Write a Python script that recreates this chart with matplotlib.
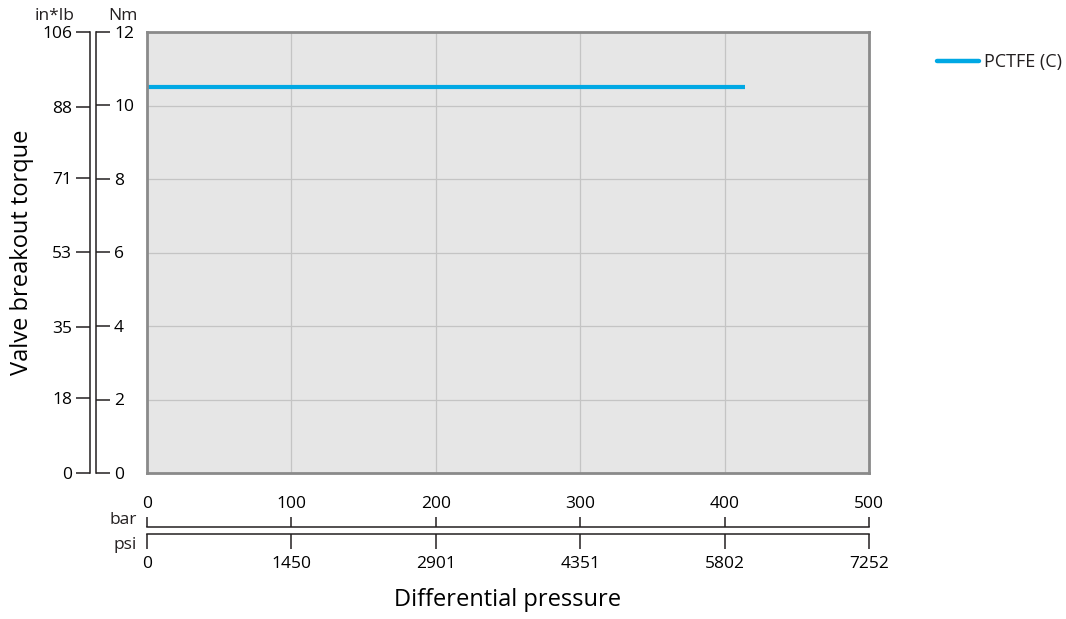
import matplotlib
matplotlib.use("Agg")
from matplotlib import pyplot as plt

plt.rcParams['font.family'] = ['Open Sans', 'DejaVu Sans']
plt.rcParams['text.color'] = '#231f20'

# data
series_name = "PCTFE (C)"
pressure_bar = [0, 414]
torque_nm = [10.5, 10.5]

bar_ticks = [0, 100, 200, 300, 400, 500]
psi_ticks = [0, 1450, 2901, 4351, 5802, 7252]
nm_ticks = [0, 2, 4, 6, 8, 10, 12]
inlb_ticks = [0, 18, 35, 53, 71, 88, 106]

W, H = 1066, 619
fig = plt.figure(figsize=(W / 100, H / 100), dpi=100)
x0, y0, x1, y1 = 147, 32, 869, 473
ax = fig.add_axes([x0 / W, 1 - y1 / H, (x1 - x0) / W, (y1 - y0) / H])
ax.set_facecolor('#e6e6e6')
ax.plot(pressure_bar, torque_nm, color='#00a8e4', lw=3, solid_capstyle='butt', label=series_name)
ax.set_xlim(0, 500)
ax.set_ylim(0, 12)
ax.set_xticks(bar_ticks)
ax.set_yticks(nm_ticks)
ax.grid(True, color='#c4c4c4', lw=0.9)
ax.tick_params(length=0, labelbottom=False, labelleft=False)
for s in ax.spines.values():
    s.set_color('#8a8a8a')
    s.set_linewidth(2)

axw = x1 - x0
axh = y1 - y0
lc = '#231f20'
fs = 12.5

# Nm axis (line at x=96, ticks to the right)
ax_nm = ax.twinx()
ax_nm.set_ylim(0, 12)
ax_nm.set_yticks(nm_ticks)
for k in ['left', 'top', 'bottom']:
    ax_nm.spines[k].set_visible(False)
ax_nm.spines['right'].set_position(('axes', (96 - x0) / axw))
ax_nm.spines['right'].set_color(lc)
ax_nm.spines['right'].set_linewidth(1.1)
ax_nm.tick_params(axis='y', direction='out', length=10, width=1.1, color=lc, pad=3, labelsize=fs)

# in*lb axis (line at x=90, ticks to the left)
ax_in = ax.twinx()
ax_in.set_ylim(0, 106)
ax_in.set_yticks(inlb_ticks)
ax_in.yaxis.set_ticks_position('left')
ax_in.yaxis.set_label_position('left')
for k in ['right', 'top', 'bottom']:
    ax_in.spines[k].set_visible(False)
ax_in.spines['left'].set_visible(True)
ax_in.spines['left'].set_position(('axes', (90 - x0) / axw))
ax_in.spines['left'].set_color(lc)
ax_in.spines['left'].set_linewidth(1.1)
ax_in.tick_params(axis='y', direction='out', length=10, width=1.1, color=lc, pad=3, labelsize=fs)
ax_in.set_ylabel("Valve breakout torque", fontsize=17, labelpad=6)

fig.text(55 / W, 1 - 16 / H, "in*lb", ha='center', va='center', fontsize=fs)
fig.text(123 / W, 1 - 16 / H, "Nm", ha='center', va='center', fontsize=fs)

# bar axis (line at y=527, ticks up, labels above)
ax_bar = ax.twiny()
ax_bar.set_xlim(0, 500)
ax_bar.set_xticks(bar_ticks)
for k in ['left', 'right', 'bottom']:
    ax_bar.spines[k].set_visible(False)
ax_bar.spines['top'].set_position(('axes', -(527 - y1) / axh))
ax_bar.spines['top'].set_color(lc)
ax_bar.spines['top'].set_linewidth(1.1)
ax_bar.tick_params(axis='x', direction='out', length=7.5, width=1.1, color=lc, pad=3, labelsize=fs)

# psi axis (line at y=534, ticks down, labels below)
ax_psi = ax.twiny()
ax_psi.set_xlim(0, 7252)
ax_psi.set_xticks(psi_ticks)
ax_psi.xaxis.set_ticks_position('bottom')
ax_psi.xaxis.set_label_position('bottom')
for k in ['left', 'right', 'top']:
    ax_psi.spines[k].set_visible(False)
ax_psi.spines['bottom'].set_visible(True)
ax_psi.spines['bottom'].set_position(('axes', -(534 - y1) / axh))
ax_psi.spines['bottom'].set_color(lc)
ax_psi.spines['bottom'].set_linewidth(1.1)
ax_psi.tick_params(axis='x', direction='out', length=10.5, width=1.1, color=lc, pad=5, labelsize=fs)
ax_psi.set_xlabel("Differential pressure", fontsize=17, labelpad=12)

fig.text(137 / W, 1 - 520 / H, "bar", ha='right', va='center', fontsize=fs)
fig.text(137 / W, 1 - 545 / H, "psi", ha='right', va='center', fontsize=fs)

leg = fig.legend(loc='upper left', bbox_to_anchor=(937 / W, 1 - 53 / H), frameon=False,
                 fontsize=13, handlelength=2.3, handletextpad=0.28,
                 borderpad=0, borderaxespad=0)
for h in leg.legend_handles:
    h.set_solid_capstyle('round')
    h.set_linewidth(3.2)

fig.savefig("out.png", dpi=100)
